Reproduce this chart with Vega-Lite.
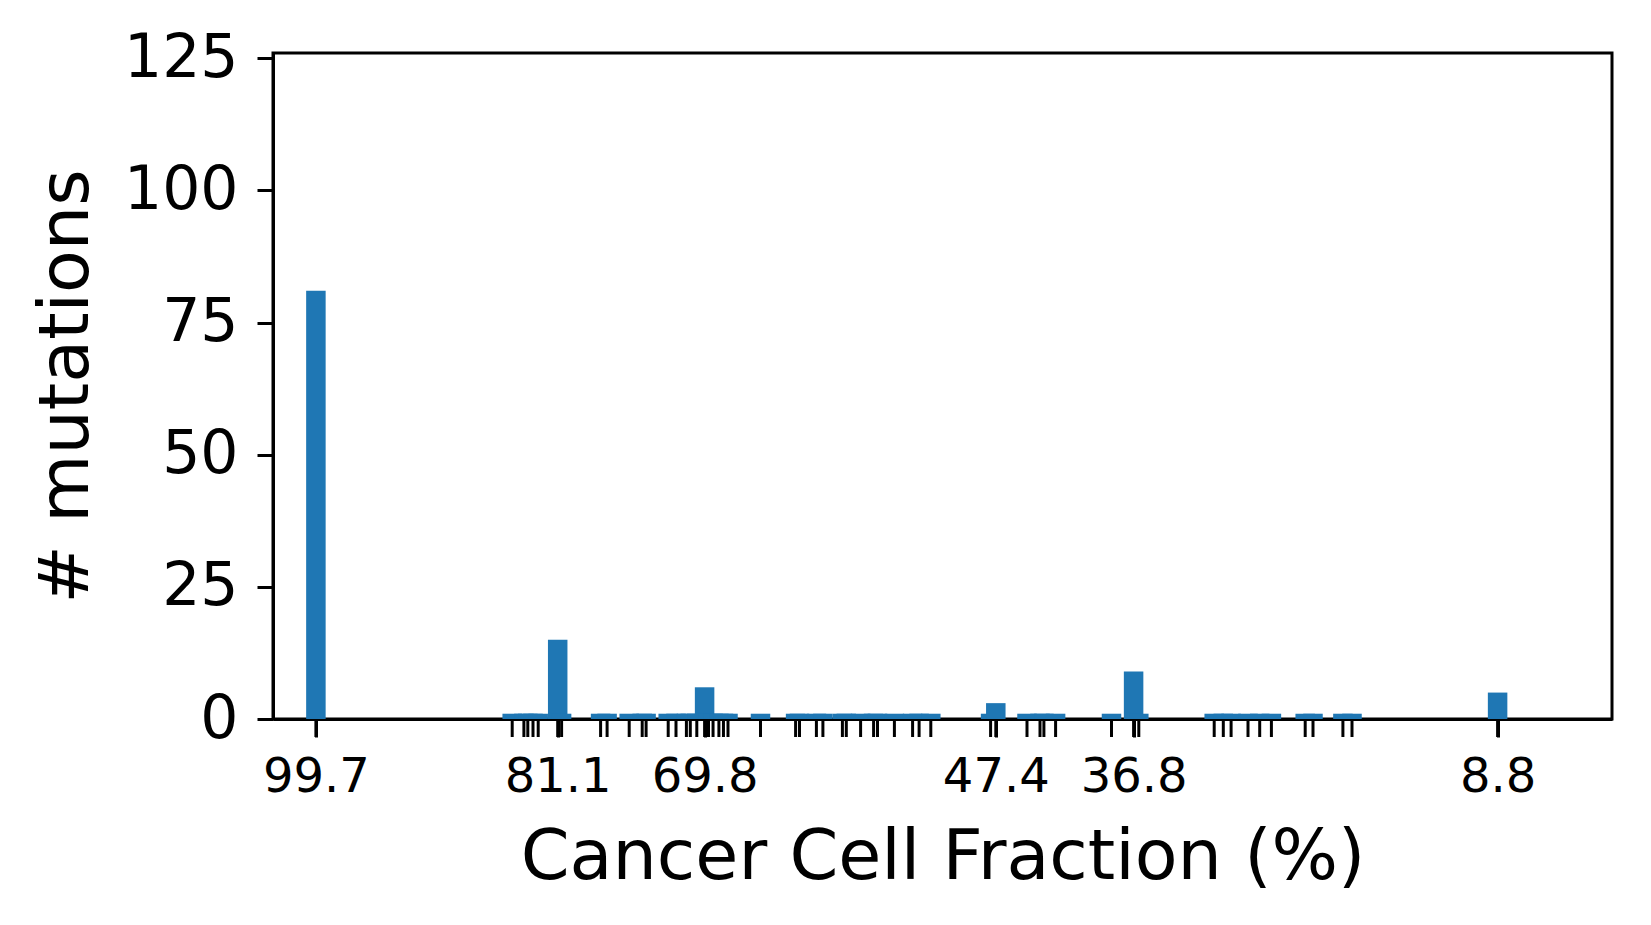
{
  "$schema": "https://vega.github.io/schema/vega-lite/v6.json",
  "autosize": {"type": "none"},
  "width": 1339,
  "height": 666,
  "padding": {"left": 273, "top": 53, "right": 39, "bottom": 206},
  "background": "white",
  "data": {
    "values": [
      {"ccf": 99.7, "count": 81},
      {"ccf": 84.6, "count": 1},
      {"ccf": 83.7, "count": 1},
      {"ccf": 83.4, "count": 1},
      {"ccf": 83.0, "count": 1},
      {"ccf": 82.6, "count": 1},
      {"ccf": 81.1, "count": 15},
      {"ccf": 80.8, "count": 1},
      {"ccf": 77.8, "count": 1},
      {"ccf": 77.3, "count": 1},
      {"ccf": 75.6, "count": 1},
      {"ccf": 74.6, "count": 1},
      {"ccf": 74.3, "count": 1},
      {"ccf": 72.6, "count": 1},
      {"ccf": 72.0, "count": 1},
      {"ccf": 71.2, "count": 1},
      {"ccf": 70.9, "count": 1},
      {"ccf": 70.4, "count": 1},
      {"ccf": 69.8, "count": 6},
      {"ccf": 69.5, "count": 1},
      {"ccf": 69.15, "count": 1},
      {"ccf": 68.7, "count": 1},
      {"ccf": 68.35, "count": 1},
      {"ccf": 68.0, "count": 1},
      {"ccf": 65.5, "count": 1},
      {"ccf": 62.8, "count": 1},
      {"ccf": 62.5, "count": 1},
      {"ccf": 61.2, "count": 1},
      {"ccf": 60.7, "count": 1},
      {"ccf": 59.2, "count": 1},
      {"ccf": 58.9, "count": 1},
      {"ccf": 57.8, "count": 1},
      {"ccf": 56.8, "count": 1},
      {"ccf": 56.5, "count": 1},
      {"ccf": 55.2, "count": 1},
      {"ccf": 53.8, "count": 1},
      {"ccf": 53.3, "count": 1},
      {"ccf": 52.4, "count": 1},
      {"ccf": 47.8, "count": 1},
      {"ccf": 47.4, "count": 3},
      {"ccf": 45.0, "count": 1},
      {"ccf": 44.0, "count": 1},
      {"ccf": 43.7, "count": 1},
      {"ccf": 42.8, "count": 1},
      {"ccf": 38.5, "count": 1},
      {"ccf": 36.8, "count": 9},
      {"ccf": 36.4, "count": 1},
      {"ccf": 30.6, "count": 1},
      {"ccf": 29.9, "count": 1},
      {"ccf": 29.3, "count": 1},
      {"ccf": 28.0, "count": 1},
      {"ccf": 27.1, "count": 1},
      {"ccf": 26.2, "count": 1},
      {"ccf": 23.6, "count": 1},
      {"ccf": 23.0, "count": 1},
      {"ccf": 20.7, "count": 1},
      {"ccf": 20.0, "count": 1},
      {"ccf": 8.8, "count": 5}
    ]
  },
  "layer": [
    {
      "mark": {"type": "bar", "size": 19.5, "color": "#1f77b4"},
      "encoding": {
        "x": {
          "field": "ccf",
          "type": "quantitative",
          "scale": {"domain": [0, 103], "reverse": true, "nice": false, "zero": false, "padding": 0},
          "axis": {
            "title": "Cancer Cell Fraction (%)",
            "values": [99.7, 81.1, 69.8, 47.4, 36.8, 8.8],
            "format": ".1f",
            "grid": false,
            "ticks": true,
            "tickSize": 18,
            "tickWidth": 3,
            "tickColor": "black",
            "labelFontSize": 48,
            "labelPadding": 16,
            "labelFlush": false,
            "labelOverlap": false,
            "titleFontSize": 70,
            "titlePadding": 22
          }
        },
        "y": {
          "field": "count",
          "type": "quantitative",
          "scale": {"domain": [0, 126], "nice": false, "padding": 0},
          "axis": {
            "title": "# mutations",
            "values": [0, 25, 50, 75, 100, 125],
            "grid": false,
            "tickSize": 16,
            "tickWidth": 3,
            "tickColor": "black",
            "labelFontSize": 60,
            "labelPadding": 19,
            "titleFontSize": 70,
            "titlePadding": 21
          }
        }
      }
    },
    {
      "mark": {"type": "tick", "orient": "vertical", "size": 18, "thickness": 3, "color": "black", "yOffset": 9, "opacity": 1},
      "encoding": {
        "x": {"field": "ccf", "type": "quantitative"},
        "y": {"datum": 0, "type": "quantitative"}
      }
    }
  ],
  "config": {
    "font": "DejaVu Sans",
    "view": {"stroke": "black", "strokeWidth": 3},
    "axis": {
      "domainColor": "black",
      "domainWidth": 3,
      "labelColor": "black",
      "titleColor": "black",
      "labelFont": "DejaVu Sans",
      "titleFont": "DejaVu Sans",
      "titleFontWeight": "normal"
    }
  }
}
